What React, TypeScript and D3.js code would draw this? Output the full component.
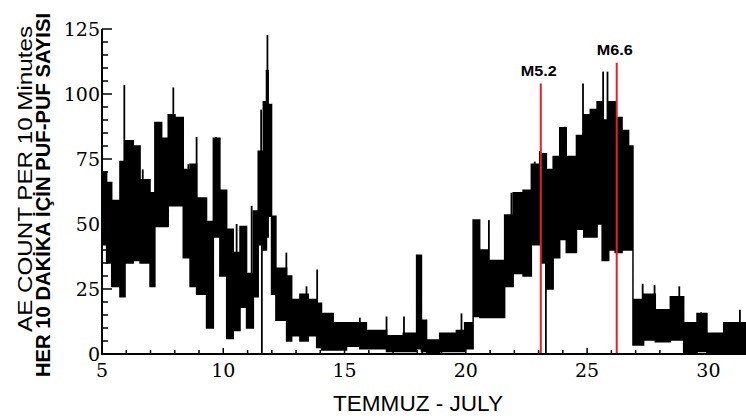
import React, { useEffect, useRef } from "react";
import * as d3 from "d3";

// envelope of the 10-minute counts (bin start day, high, low)
const binStart = [
  5.0, 5.19, 5.4, 5.74, 5.95, 6.29, 6.57, 6.98, 7.18, 7.46, 7.73, 8.01, 8.35, 8.63, 8.9, 9.31, 9.59, 9.86,
  10.14, 10.41, 10.69, 10.96, 11.24, 11.44, 11.65, 11.78, 11.85, 11.99, 12.17, 12.61, 12.82, 13.16, 13.5,
  13.85, 14.05, 14.53, 15.08, 15.63, 15.9, 16.18, 16.73, 17.42, 17.97, 18.17, 18.38, 18.92, 19.61, 19.95,
  20.3, 20.57, 20.92, 21.26, 21.6, 21.95, 22.36, 22.7, 23.11, 23.32, 23.6, 23.87, 24.14, 24.56, 24.86,
  25.13, 25.41, 25.62, 25.89, 26.16, 26.44, 26.71, 26.89, 27.33, 27.81, 28.43, 28.98, 29.53, 29.94, 30.63,
];
const binHigh = [
  70, 66, 59, 74, 82, 80, 67, 62, 89, 83, 92, 91, 71, 73, 60, 51, 83, 63,
  48, 39, 49, 31, 55, 78, 97, 109, 96, 53, 33, 30, 21, 23, 21,
  19.5, 15.6, 12, 12, 12, 9, 9, 7, 8, 38, 13, 5.4, 8, 9, 12,
  51.5, 40, 36, 36, 53.5, 62, 63, 73, 77, 71, 76, 87, 76, 84, 92,
  94, 97, 90, 97, 91, 86, 80, 21, 23, 17, 22, 12, 15.6, 8, 12,
];
const binLow = [
  42, 35, 26, 22, 35, 36, 35, 26, 49, 49, 57, 57, 37, 26, 23, 10, 45, 30,
  6, 9, 18, 10, 22, 42, 40, 45, 53, 23, 13, 5, 7, 5, 7,
  2.5, 1.5, 1.5, 3, 2, 2, 2, 1, 1, 2, 1, 0.5, 1, 1, 2,
  14.4, 14, 14, 14, 26, 31, 30, 42, 35, 25, 37, 44, 39, 48, 45,
  45, 50, 36, 40, 39, 40, 40, 3.5, 5.4, 4.7, 5.4, 0.5, 1, 0.5, 0.5,
];
const lastDay = 31.55;

// isolated spikes and dropouts
const spikeDays = [
  5.92, 6.68, 7.94, 8.56, 8.9, 9.7, 10.55, 11.17, 11.56, 11.59, 11.82, 12.6, 13.43, 13.87, 15.63, 16.73,
  17.45, 18.2, 19.82, 20.95, 21.88, 22.84, 23.05, 23.3, 24.08, 24.83, 25.66, 25.84, 27.29, 27.78, 28.8,
  29.7, 31.3,
];
const spikeValues = [
  103.5, 71, 102.5, 73, 83.5, 83.5, 50, 57, 94, 0, 122.7, 39, 26, 32.5, 14, 14.4,
  14.4, 0, 15.6, 51.5, 62, 74, 78, 0, 87.4, 104, 108.6, 108.6, 27, 26.5, 26,
  16, 17,
];

const quakeDays = [23.09, 26.22];
const quakeTops = [104, 112];
const quakeLabels = ["M5.2", "M6.6"];

const yTicks = [0, 25, 50, 75, 100, 125];
const xTicks = [5, 10, 15, 20, 25, 30];

const App = () => {
  const svgRef = useRef<SVGSVGElement>(null);

  useEffect(() => {
    const svg = d3.select(svgRef.current);
    svg.selectAll("*").remove();

    const x = d3.scaleLinear().domain([5, lastDay]).range([102, 746]);
    const y = d3.scaleLinear().domain([0, 125]).range([354, 29]);

    const pts = binStart.map((d, i) => ({ day: d, hi: binHigh[i], lo: binLow[i] }));
    pts.push({ day: lastDay, hi: binHigh[binHigh.length - 1], lo: binLow[binLow.length - 1] });

    const area = d3
      .area<any>()
      .x((d) => x(d.day))
      .y0((d) => y(d.lo))
      .y1((d) => y(d.hi))
      .curve(d3.curveStepAfter);

    svg.append("path").attr("d", area(pts)).attr("fill", "#000").attr("stroke", "#000").attr("stroke-width", 1.5);

    const bisect = d3.bisector((d: number) => d).right;
    spikeDays.forEach((d, i) => {
      const k = Math.max(0, bisect(binStart, d) - 1);
      const mid = (binHigh[k] + binLow[k]) / 2;
      svg
        .append("line")
        .attr("x1", x(d))
        .attr("x2", x(d))
        .attr("y1", y(mid))
        .attr("y2", y(spikeValues[i]))
        .attr("stroke", "#000")
        .attr("stroke-width", 1.8);
    });

    // earthquake markers
    quakeDays.forEach((d, i) => {
      svg
        .append("line")
        .attr("x1", x(d))
        .attr("x2", x(d))
        .attr("y1", y(0))
        .attr("y2", y(quakeTops[i]))
        .attr("stroke", "#ee1c24")
        .attr("stroke-width", 2);
      svg
        .append("text")
        .attr("x", x(d) - 2)
        .attr("y", y(quakeTops[i]) - 8)
        .attr("text-anchor", "middle")
        .attr("font-family", "Liberation Sans, Arial, sans-serif")
        .attr("font-weight", "bold")
        .attr("font-size", 15)
        .attr("textLength", 36)
        .attr("lengthAdjust", "spacingAndGlyphs")
        .text(quakeLabels[i]);
    });

    // axes
    const ax = svg.append("g").attr("stroke", "#000");
    ax.append("line").attr("x1", 102).attr("x2", 102).attr("y1", y(125)).attr("y2", y(0)).attr("stroke-width", 2);
    ax.append("line").attr("x1", 101).attr("x2", 746).attr("y1", y(0)).attr("y2", y(0)).attr("stroke-width", 2);

    d3.range(0, 126, 5).forEach((v) => {
      const major = v % 25 === 0;
      ax.append("line")
        .attr("x1", 102)
        .attr("x2", 102 + (major ? 10 : 6))
        .attr("y1", y(v))
        .attr("y2", y(v))
        .attr("stroke-width", 1.5);
    });
    d3.range(6, 32).forEach((v) => {
      const major = v % 5 === 0;
      ax.append("line")
        .attr("x1", x(v))
        .attr("x2", x(v))
        .attr("y1", y(0))
        .attr("y2", y(0) - (major ? 6 : 4))
        .attr("stroke-width", 1.5);
    });

    svg
      .selectAll(".ylab")
      .data(yTicks)
      .enter()
      .append("text")
      .attr("x", 100)
      .attr("y", (d) => y(d) + 7)
      .attr("text-anchor", "end")
      .attr("font-family", "DejaVu Serif, serif")
      .attr("font-size", 19)
      .text((d) => d);

    svg
      .selectAll(".xlab")
      .data(xTicks)
      .enter()
      .append("text")
      .attr("x", (d) => x(d))
      .attr("y", 377)
      .attr("text-anchor", "middle")
      .attr("font-family", "DejaVu Serif, serif")
      .attr("font-size", 19)
      .text((d) => d);

    svg
      .append("text")
      .attr("x", 418)
      .attr("y", 411)
      .attr("text-anchor", "middle")
      .attr("font-family", "Liberation Sans, Arial, sans-serif")
      .attr("font-size", 22)
      .attr("textLength", 170)
      .attr("lengthAdjust", "spacingAndGlyphs")
      .text("TEMMUZ - JULY");

    svg
      .append("text")
      .attr("transform", "translate(32,179) rotate(-90)")
      .attr("text-anchor", "middle")
      .attr("font-family", "Liberation Sans, Arial, sans-serif")
      .attr("font-size", 20)
      .attr("textLength", 306)
      .attr("lengthAdjust", "spacingAndGlyphs")
      .text("AE COUNT PER 10 Minutes");

    svg
      .append("text")
      .attr("transform", "translate(50,195) rotate(-90)")
      .attr("text-anchor", "middle")
      .attr("font-family", "Liberation Sans, Arial, sans-serif")
      .attr("font-weight", "bold")
      .attr("font-size", 20)
      .attr("textLength", 364)
      .attr("lengthAdjust", "spacingAndGlyphs")
      .text("HER 10 DAKİKA İÇİN PUF-PUF SAYISI");
  }, []);

  return (
    <svg
      ref={svgRef}
      width={746}
      height={419}
      style={{ position: "absolute", left: 0, top: 0, background: "#fff" }}
    ></svg>
  );
};

export default App;
